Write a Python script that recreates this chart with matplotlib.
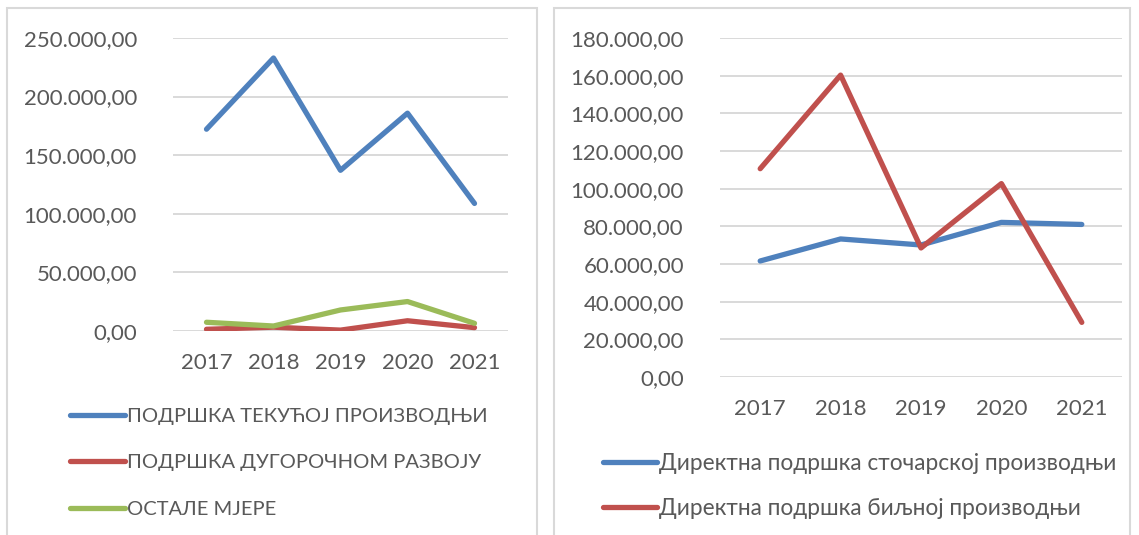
import matplotlib.pyplot as plt
from matplotlib.patches import Rectangle
from matplotlib.ticker import FuncFormatter, MultipleLocator

plt.rcParams['font.family'] = ['Lato', 'Noto Sans', 'DejaVu Sans']

years = ['2017', '2018', '2019', '2020', '2021']

# left chart
tekuca = [172100, 232900, 137000, 185800, 108700]
dugorocni = [1200, 3000, 500, 8500, 2600]
ostale = [7200, 4000, 17700, 24900, 6300]
left_labels = ['ПОДРШКА ТЕКУЋОЈ ПРОИЗВОДЊИ', 'ПОДРШКА ДУГОРОЧНОМ РАЗВОЈУ', 'ОСТАЛЕ МЈЕРЕ']

# right chart
stocarska = [61600, 73300, 70100, 82100, 81000]
biljna = [110600, 160300, 68500, 102700, 29000]
right_labels = ['Директна подршка сточарској производњи', 'Директна подршка биљној производњи']

blue, red, green = '#4F81BD', '#C0504D', '#9BBB59'
txt = '#595959'
W, H = 1139, 535


def fmt(v, pos):
    s = f'{v:,.2f}'
    return s.replace(',', 'X').replace('.', ',').replace('X', '.')


fig = plt.figure(figsize=(W / 100, H / 100), dpi=100)

# panel frames
for x0, x1 in [(7, 537), (554, 1130)]:
    fig.patches.append(Rectangle((x0 / W, -0.02), (x1 - x0) / W, (H - 8) / H + 0.02,
                                 transform=fig.transFigure, fill=False,
                                 ec='#d9d9d9', lw=1.5))


def style(ax, top, step):
    ax.set_xlim(-0.5, 4.5)
    ax.set_ylim(0, top)
    ax.yaxis.set_major_locator(MultipleLocator(step))
    ax.yaxis.set_major_formatter(FuncFormatter(fmt))
    ax.set_xticks(range(len(years)))
    ax.set_xticklabels(years)
    for s in ax.spines.values():
        s.set_visible(False)
    ax.grid(axis='y', color='#d9d9d9', lw=1.4)
    ax.set_axisbelow(True)
    ax.tick_params(axis='y', length=0, pad=26, labelsize=16, labelcolor=txt)
    ax.tick_params(axis='x', length=0, pad=16, labelsize=16, labelcolor=txt)


x = range(len(years))
lw = 3.8

ax1 = fig.add_axes([173 / W, 1 - 330.7 / H, 335 / W, (330.7 - 38) / H])
style(ax1, 250000, 50000)
l1, = ax1.plot(x, tekuca, color=blue, lw=lw, solid_capstyle='round')
l2, = ax1.plot(x, dugorocni, color=red, lw=lw, solid_capstyle='round')
l3, = ax1.plot(x, ostale, color=green, lw=lw, solid_capstyle='round')
fig.legend([l1, l2, l3], left_labels, loc='upper left',
           bbox_to_anchor=(70 / W, 1 - 408 / H), bbox_transform=fig.transFigure,
           frameon=False, fontsize=14.5, labelcolor=txt, handlelength=2.75,
           handletextpad=0.08, borderpad=0, borderaxespad=0, labelspacing=1.45)

ax2 = fig.add_axes([720 / W, 1 - 377 / H, 402 / W, (377 - 38) / H])
style(ax2, 180000, 20000)
r1, = ax2.plot(x, stocarska, color=blue, lw=lw, solid_capstyle='round')
r2, = ax2.plot(x, biljna, color=red, lw=lw, solid_capstyle='round')
fig.legend([r1, r2], right_labels, loc='upper left',
           bbox_to_anchor=(603 / W, 1 - 453 / H), bbox_transform=fig.transFigure,
           frameon=False, fontsize=16.3, labelcolor=txt, handlelength=2.4,
           handletextpad=0.08, borderpad=0, borderaxespad=0, labelspacing=1.05)

fig.savefig('out.png', dpi=100)
